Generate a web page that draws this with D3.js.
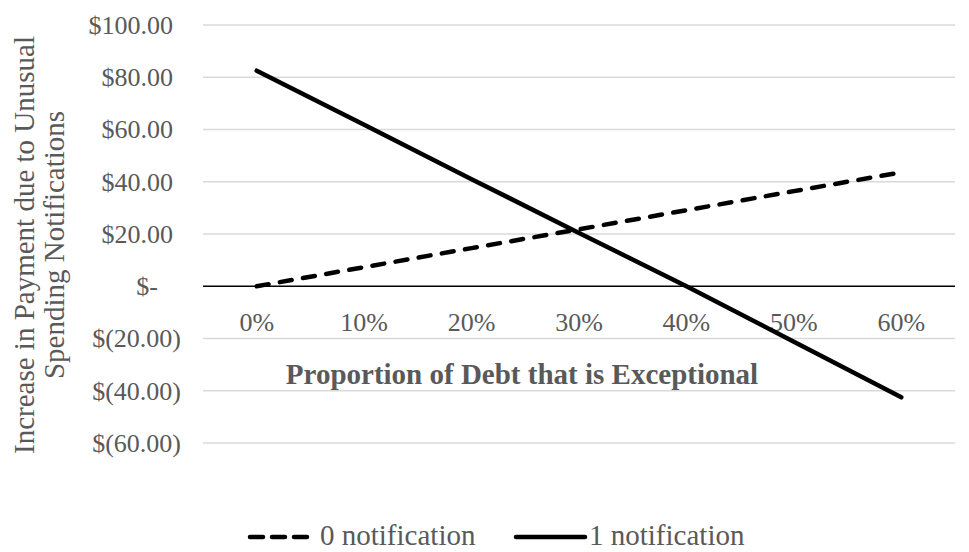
<!DOCTYPE html>
<html><head><meta charset="utf-8">
<script src="https://cdn.jsdelivr.net/npm/d3@7"></script>
<style>
body{margin:0;background:#fff;}
svg text{font-family:"Liberation Serif","Times New Roman",serif;}
</style></head>
<body><svg id="c" width="969" height="552"></svg>
<script>
const categories = ["0%","10%","20%","30%","40%","50%","60%"];
const zeroNotification = [0, 7.3, 14.6, 21.8, 29.1, 36.4, 43.6];
const oneNotification = [82.5, 61.8, 41, 20.4, 0, -21.2, -42.5];
const yTicks = [100, 80, 60, 40, 20, 0, -20, -40, -60];
const seriesNames = ["0 notification", "1 notification"];
const xTitle = "Proportion of Debt that is Exceptional";
const yTitleLines = ["Increase in Payment due to Unusual", "Spending Notifications"];

const svg = d3.select("#c");
const x = d3.scaleBand().domain(categories).range([203, 955]);
const y = d3.scaleLinear().domain([-60, 100]).range([443, 25]);
const gray = "#595959";

function fmt(v){
  if (v === 0) return "$-";
  return "$" + (v < 0 ? "(" + d3.format(".2f")(-v) + ")" : d3.format(".2f")(v));
}

// gridlines
svg.append("g").selectAll("line").data(yTicks.filter(d => d !== 0)).join("line")
  .attr("x1", x.range()[0]).attr("x2", x.range()[1])
  .attr("y1", d => y(d)).attr("y2", d => y(d))
  .attr("stroke", "#d9d9d9").attr("stroke-width", 1.5);

// y axis labels
const yAxis = d3.axisLeft(y).tickValues(yTicks).tickFormat(fmt).tickSize(0).tickPadding(0);
const gy = svg.append("g").attr("transform", "translate(173,0)").call(yAxis);
gy.select(".domain").remove();
gy.selectAll("text").attr("font-size", 26).attr("fill", gray)
  .attr("font-family", "Liberation Serif")
  .attr("dx", d => d < 0 ? 8 : (d === 0 ? -15 : 0));

// zero line (category axis)
svg.append("line").attr("x1", x.range()[0]).attr("x2", x.range()[1])
  .attr("y1", y(0)).attr("y2", y(0)).attr("stroke", "#000").attr("stroke-width", 1.5);

// x tick labels
const xAxis = d3.axisBottom(x).tickSize(0).tickPadding(0);
const gx = svg.append("g").attr("transform", "translate(0," + (y(0)) + ")").call(xAxis);
gx.select(".domain").remove();
gx.selectAll("text").attr("font-size", 26).attr("fill", gray).attr("dy", null)
  .attr("y", 45).attr("font-family", "Liberation Serif");

// lines
const line = d3.line().x((d, i) => x(categories[i]) + x.bandwidth() / 2).y(d => y(d));
svg.append("path").datum(zeroNotification).attr("d", line).attr("fill", "none")
  .attr("stroke", "#000").attr("stroke-width", 4.5).attr("stroke-dasharray", "12,11.5")
  .attr("stroke-linecap", "round");
svg.append("path").datum(oneNotification).attr("d", line).attr("fill", "none")
  .attr("stroke", "#000").attr("stroke-width", 4.5).attr("stroke-linecap", "round");

// x title
svg.append("text").attr("x", 522).attr("y", 384).attr("text-anchor", "middle")
  .attr("font-size", 29).attr("font-weight", "bold").attr("fill", gray).text(xTitle);

// y title
const yt = svg.append("text").attr("transform", "translate(34,245) rotate(-90)")
  .attr("text-anchor", "middle").attr("font-size", 29).attr("fill", gray);
yt.selectAll("tspan").data(yTitleLines).join("tspan")
  .attr("x", 0).attr("dy", (d, i) => i === 0 ? 0 : 30).text(d => d);

// legend
const lg = svg.append("g");
lg.append("line").attr("x1", 250).attr("x2", 308).attr("y1", 537).attr("y2", 537)
  .attr("stroke", "#000").attr("stroke-width", 4.5).attr("stroke-dasharray", "13,9")
  .attr("stroke-linecap", "round");
lg.append("text").attr("x", 320).attr("y", 545).attr("font-size", 29).attr("fill", gray).text(seriesNames[0]);
lg.append("line").attr("x1", 516).attr("x2", 585).attr("y1", 537).attr("y2", 537)
  .attr("stroke", "#000").attr("stroke-width", 4.5).attr("stroke-linecap", "round");
lg.append("text").attr("x", 589).attr("y", 545).attr("font-size", 29).attr("fill", gray).text(seriesNames[1]);
</script></body></html>
